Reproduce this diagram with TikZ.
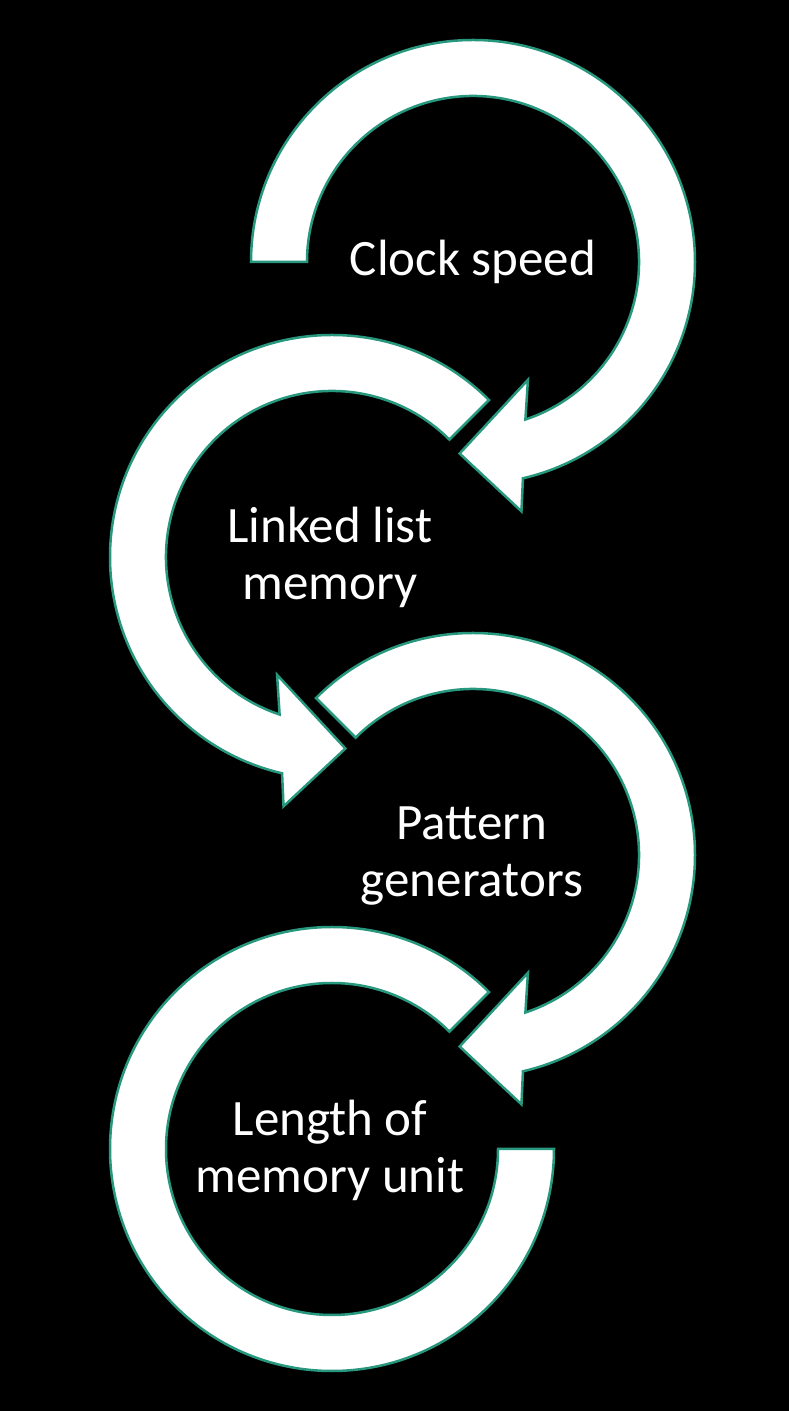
\documentclass[tikz,border=0pt]{standalone}
\usepackage{fontspec}
\setmainfont{Carlito}
\definecolor{teal}{RGB}{39,152,125}
\tikzset{
  arrowshape/.style={fill=white, draw=teal, line width=2.5pt, line join=miter},
  label/.style={text=white, align=center, font=\fontsize{51}{57}\selectfont, inner sep=0pt}
}
\begin{document}
\begin{tikzpicture}
\useasboundingbox[fill=black] (0pt,0pt) rectangle (789pt,1411pt);
% arrow 1 (clockwise)
\begin{scope}[shift={(473pt,1149pt)}]
\path[arrowshape] (180:222pt) arc[start angle=180, end angle=-77, radius=222pt]
  -- (-79:254pt) -- (-94:192pt) -- (-65:130pt) -- (-71.6:166pt)
  arc[start angle=-71.6, end angle=180, radius=166pt] -- cycle;
\end{scope}
% arrow 2 (counterclockwise)
\begin{scope}[shift={(332pt,854pt)}]
\path[arrowshape] (45:222pt) arc[start angle=45, end angle=257, radius=222pt]
  -- (259:254pt) -- (274:192pt) -- (245:130pt) -- (251.6:166pt)
  arc[start angle=251.6, end angle=45, radius=166pt] -- cycle;
\end{scope}
% arrow 3 (clockwise)
\begin{scope}[shift={(473pt,556pt)}]
\path[arrowshape] (135:222pt) arc[start angle=135, end angle=-77, radius=222pt]
  -- (-79:254pt) -- (-94:192pt) -- (-65:130pt) -- (-71.6:166pt)
  arc[start angle=-71.6, end angle=135, radius=166pt] -- cycle;
\end{scope}
% arc 4
\begin{scope}[shift={(332pt,262pt)}]
\path[arrowshape] (45:222pt) arc[start angle=45, end angle=360, radius=222pt]
  -- (360:166pt) arc[start angle=360, end angle=45, radius=166pt] -- cycle;
\end{scope}
\node[label, anchor=base] (t1) at (473pt,1135pt) {Clock speed};
\node[label, anchor=base] (t2) at (330pt,811pt) {Linked list\\memory};
\node[label, anchor=base] (t3) at (472pt,514pt) {Pattern\\generators};
\node[label, anchor=base] (t4) at (330pt,218pt) {Length of\\memory unit};
\end{tikzpicture}
\end{document}
